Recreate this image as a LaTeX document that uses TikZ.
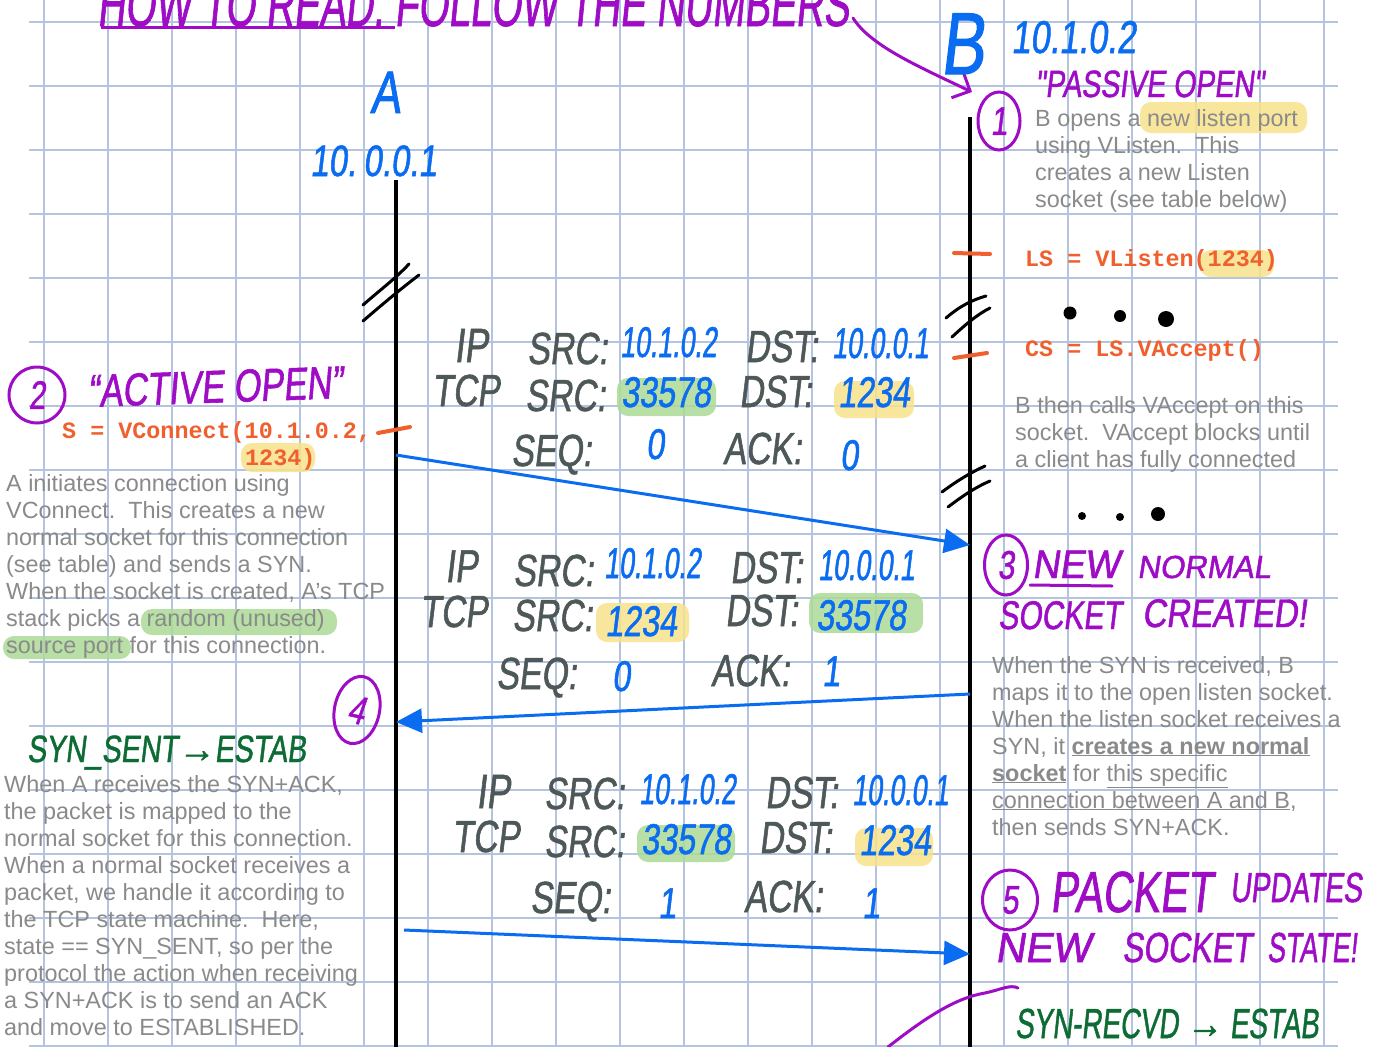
\documentclass[tikz,border=0pt]{standalone}
\usepackage{fontspec}
\usepackage{graphicx}
\setmainfont{Liberation Sans}
\setmonofont{Liberation Mono}
\newfontfamily\hand[FakeSlant=0.12,FakeStretch=0.75,FakeBold=1.2]{Liberation Sans}
\newfontfamily\handn[FakeSlant=0.12,FakeStretch=0.62,FakeBold=1.2]{Liberation Sans}
\usetikzlibrary{arrows.meta,shapes.geometric}
\definecolor{gridc}{RGB}{180,196,222}
\definecolor{purp}{RGB}{158,12,198}
\definecolor{hblue}{RGB}{10,108,240}
\definecolor{hgray}{RGB}{78,88,88}
\definecolor{tgray}{RGB}{138,138,138}
\definecolor{orng}{RGB}{240,96,46}
\definecolor{hgreen}{RGB}{12,108,52}
\definecolor{hlyc}{RGB}{249,226,140}
\definecolor{hlgc}{RGB}{172,218,150}
\newcommand\hsx[2]{\scalebox{#1}[1]{#2}}
\begin{document}
\begin{tikzpicture}[x=1pt,y=-1pt,
  gt/.style={font=\fontsize{23.4}{27}\selectfont, text=tgray, align=left, inner sep=0pt, anchor=base west},
  hw/.style={inner sep=0pt, anchor=base west},
  lab/.style={hw, text=hgray, font=\hand\fontsize{45}{45}\selectfont},
  val/.style={hw, text=hblue, font=\hand\fontsize{43}{43}\selectfont},
  ipv/.style={hw, text=hblue, font=\handn\fontsize{43}{43}\selectfont},
  pur/.style={hw, text=purp},
  grn/.style={hw, text=hgreen},
  code/.style={inner sep=0pt, anchor=base west, text=orng, font=\ttfamily\bfseries\fontsize{23.4}{27}\selectfont},
  numc/.style={ellipse, draw=purp, line width=3pt, text=purp, inner sep=0pt, font=\hand\fontsize{40}{40}\selectfont},
  life/.style={black, line width=3.5pt},
  msg/.style={hblue, line width=3pt, -{Triangle[length=26pt,width=24pt]}},
  tick/.style={orng, line width=4pt, line cap=round},
  brk/.style={black, line width=3pt, line cap=round},
  hly/.style={fill=hlyc, rounded corners=11pt, opacity=0.85},
  hlg/.style={fill=hlgc, rounded corners=11pt, opacity=0.85}]
\useasboundingbox (0,0) rectangle (1377,1047);
\fill[white] (0,0) rectangle (1377,1047);
% grid
\foreach \x in {44,108,...,1324} \draw[gridc, line width=1.1pt] (\x,0) -- (\x,1047);
\foreach \y in {22,86,...,1046} \draw[gridc, line width=1.1pt] (29,\y) -- (1338,\y);

% highlights
\fill[hly] (1140,102) rectangle (1307,133);
\fill[hly] (1200,250) rectangle (1274,277);
\fill[hly] (241,443) rectangle (315,472);
\fill[hlg] (141,609) rectangle (337,635);
\fill[hlg] (3,636) rectangle (131,659);
\fill[hlg] (617,378) rectangle (716,416);
\fill[hly] (834,381) rectangle (914,418);
\fill[hly] (596,603) rectangle (689,642);
\fill[hlg] (809,593) rectangle (923,633);
\fill[hlg] (637,825) rectangle (735,862);
\fill[hly] (855,828) rectangle (933,866);

% title
\node[pur, font=\hand\fontsize{62}{62}\selectfont] (title) at (97,26) {\hsx{0.83}{HOW TO READ: FOLLOW THE NUMBERS}};
\draw[purp, line width=3pt] (101,27) -- (395,27);
\coordinate (ts) at (853,18);
\coordinate (te) at (972,92);
\draw[purp, line width=3pt, line cap=round, -{Straight Barb[length=14pt,width=28pt,line width=3pt]}] (ts) .. controls (870,45) and (915,65) .. (te);

% hosts
\node[hw, text=hblue, font=\hand\fontsize{60}{60}\selectfont] (Aname) at (370,113) {A};
\node[hw, text=hblue, font=\hand\fontsize{44}{44}\selectfont] (Aip) at (310,176) {10.\,0.0.1};
\node[hw, text=hblue, font=\hand\fontsize{88}{88}\selectfont] (Bname) at (940,74) {B};
\node[hw, text=hblue, font=\hand\fontsize{46}{46}\selectfont] (Bip) at (1011,53) {10.1.0.2};

% lifelines
\coordinate (Atop) at (396,180); \coordinate (Abot) at (396,1047);
\coordinate (Btop) at (970,117); \coordinate (Bbot) at (970,1047);
\draw[life] (Atop) -- (Abot);
\draw[life] (Btop) -- (Bbot);

% break marks
\draw[brk] (363,305) .. controls (380,290) and (395,279) .. (409,264);
\draw[brk] (363,321) .. controls (385,302) and (402,288) .. (419,275);
\draw[brk] (946,318) .. controls (960,306) and (972,300) .. (986,296);
\draw[brk] (952,337) .. controls (966,324) and (978,314) .. (990,308);
\draw[brk] (942,492) .. controls (958,480) and (972,472) .. (985,466);
\draw[brk] (948,507) .. controls (964,495) and (976,487) .. (990,481);

% orange ticks
\draw[tick] (378,433) -- (410,427);
\draw[tick] (954,253) -- (990,254);
\draw[tick] (954,358) -- (987,353);

% step 1
\node[pur, font=\hand\fontsize{38}{38}\selectfont] (passive) at (1035,97) {"PASSIVE OPEN"};
\node[numc, minimum width=42pt, minimum height=58pt] (n1) at (999,121) {1};
\node[gt] (t1) at (1035,207) {B opens a new listen port\\using VListen.\ \ This\\creates a new Listen\\socket (see table below)};
\node[code] (ls) at (1025,266) {LS = VListen(1234)};
\fill (1070,313) circle (6.5pt);
\fill (1120,316) circle (6pt);
\fill (1166,319) circle (8pt);
\node[code] (cs) at (1025,356) {CS = LS.VAccept()};
\node[gt] (t1b) at (1015,467) {B then calls VAccept on this\\socket.\ \ VAccept blocks until\\a client has fully connected};
\fill (1082,516) circle (4pt);
\fill (1120,517) circle (4pt);
\fill (1158,514) circle (7pt);

% step 2
\node[numc, minimum width=56pt, minimum height=56pt] (n2) at (37,395) {2};
\node[pur, font=\hand\fontsize{46}{46}\selectfont, rotate=2] (active) at (88,407) {“ACTIVE OPEN”};
\node[code] (vc) at (62,438) {S = VConnect(10.1.0.2,};
\node[code] (vc2) at (245,465) {1234)};
\node[gt] (t2) at (6,653) {A initiates connection using\\VConnect.\ \ This creates a new\\normal socket for this connection\\(see table) and sends a SYN.\\When the socket is created, A’s TCP\\stack picks a random (unused)\\source port for this connection.};

% packet 1
\node[lab, font=\hand\fontsize{48}{48}\selectfont] (p1ip) at (454,362) {IP};
\node[lab] (p1s) at (527,364) {SRC:};
\node[ipv] (p1sv) at (620,357) {10.1.0.2};
\node[lab] (p1d) at (745,362) {DST:};
\node[ipv] (p1dv) at (832,358) {10.0.0.1};
\node[lab] (p1tcp) at (432,406) {TCP};
\node[lab] (p1ts) at (525,411) {SRC:};
\node[val] (p1tsv) at (621,407) {33578};
\node[lab] (p1td) at (739,407) {DST:};
\node[val] (p1tdv) at (838,407) {1234};
\node[lab] (p1seq) at (511,466) {SEQ:};
\node[val] (p1sq) at (646,459) {0};
\node[lab] (p1ack) at (723,464) {ACK:};
\node[val] (p1ak) at (840,470) {0};

% message 1
\coordinate (m1s) at (396,455); \coordinate (m1e) at (970,545);
\draw[msg] (m1s) -- (m1e);

% step 3
\node[numc, minimum width=43pt, minimum height=60pt] (n3) at (1006,565) {3};
\node[pur, font=\hand\fontsize{40}{40}\selectfont] (new) at (1032,578) {\hsx{1.25}{NEW}};
\draw[purp, line width=3pt, line cap=round] (1030,585) -- (1112,586);
\node[pur, font=\hand\fontsize{32}{32}\selectfont] (normal) at (1137,578) {\hsx{1.3}{NORMAL}};
\node[pur, font=\hand\fontsize{40}{40}\selectfont] (sock) at (998,629) {SOCKET};
\node[pur, font=\hand\fontsize{40}{40}\selectfont] (created) at (1142,627) {\hsx{1.1}{CREATED!}};
\node[gt] (t3) at (992,835) {When the SYN is received, B\\maps it to the open listen socket.\\When the listen socket receives a\\SYN, it \textbf{\underline{creates a new normal}}\\\textbf{\underline{socket}} for \underline{this specific}\\\underline{connection between A and B},\\then sends SYN+ACK.};

% packet 2
\node[lab, font=\hand\fontsize{46}{46}\selectfont] (p2ip) at (445,582) {IP};
\node[lab] (p2s) at (513,586) {SRC:};
\node[ipv] (p2sv) at (604,578) {10.1.0.2};
\node[lab] (p2d) at (730,583) {DST:};
\node[ipv] (p2dv) at (818,580) {10.0.0.1};
\node[lab] (p2tcp) at (420,627) {TCP};
\node[lab] (p2ts) at (512,631) {SRC:};
\node[val] (p2tsv) at (605,636) {1234};
\node[lab] (p2td) at (725,626) {DST:};
\node[val] (p2tdv) at (816,630) {33578};
\node[lab] (p2seq) at (496,689) {SEQ:};
\node[val] (p2sq) at (612,691) {0};
\node[lab] (p2ack) at (711,686) {ACK:};
\node[val] (p2ak) at (822,686) {1};

% message 2
\coordinate (m2s) at (970,694); \coordinate (m2e) at (396,722);
\draw[msg] (m2s) -- (m2e);

% step 4
\node[numc, minimum width=45pt, minimum height=68pt, rotate=-12] (n4) at (357,710) {4};
\node[grn, font=\hand\fontsize{38}{38}\selectfont] (synsent) at (27,762) {SYN\_SENT\hsx{1.3}{→}ESTAB};
\node[gt] (t4) at (4,1035) {When A receives the SYN+ACK,\\the packet is mapped to the\\normal socket for this connection.\\When a normal socket receives a\\packet, we handle it according to\\the TCP state machine.\ \ Here,\\state == SYN\_SENT, so per the\\protocol the action when receiving\\a SYN+ACK is to send an ACK\\and move to ESTABLISHED.};

% packet 3
\node[lab, font=\hand\fontsize{48}{48}\selectfont] (p3ip) at (476,808) {IP};
\node[lab] (p3s) at (544,809) {SRC:};
\node[ipv] (p3sv) at (639,804) {10.1.0.2};
\node[lab] (p3d) at (765,808) {DST:};
\node[ipv] (p3dv) at (852,805) {10.0.0.1};
\node[lab] (p3tcp) at (452,852) {TCP};
\node[lab] (p3ts) at (544,857) {SRC:};
\node[val] (p3tsv) at (641,854) {33578};
\node[lab] (p3td) at (759,853) {DST:};
\node[val] (p3tdv) at (859,855) {1234};
\node[lab] (p3seq) at (530,913) {SEQ:};
\node[val] (p3sq) at (658,918) {1};
\node[lab] (p3ack) at (744,912) {ACK:};
\node[val] (p3ak) at (862,918) {1};

% message 3
\coordinate (m3s) at (404,930); \coordinate (m3e) at (970,954);
\draw[msg] (m3s) -- (m3e);

% step 5
\node[numc, minimum width=55pt, minimum height=60pt] (n5) at (1010,900) {5};
\node[pur, font=\hand\fontsize{58}{58}\selectfont] (packet) at (1050,912) {\hsx{0.95}{PACKET}};
\node[pur, font=\hand\fontsize{42}{42}\selectfont] (updates) at (1230,902) {\hsx{0.9}{UPDATES}};
\node[pur, font=\hand\fontsize{42}{42}\selectfont] (new5) at (995,962) {\hsx{1.3}{NEW}};
\node[pur, font=\hand\fontsize{42}{42}\selectfont] (sock5) at (1122,962) {SOCKET};
\node[pur, font=\hand\fontsize{42}{42}\selectfont] (state5) at (1267,962) {\hsx{0.85}{STATE!}};
\coordinate (cs5) at (888,1047); \coordinate (ce5) at (1018,988);
\draw[purp, line width=3pt, line cap=round] (cs5) .. controls (925,1018) and (955,998) .. (985,993) .. controls (1000,990) and (1010,984) .. (ce5);
\node[grn, font=\hand\fontsize{42}{42}\selectfont] (synrecvd) at (1015,1038) {\hsx{0.88}{SYN-RECVD \hsx{1.3}{→} ESTAB}};
\end{tikzpicture}
\end{document}
